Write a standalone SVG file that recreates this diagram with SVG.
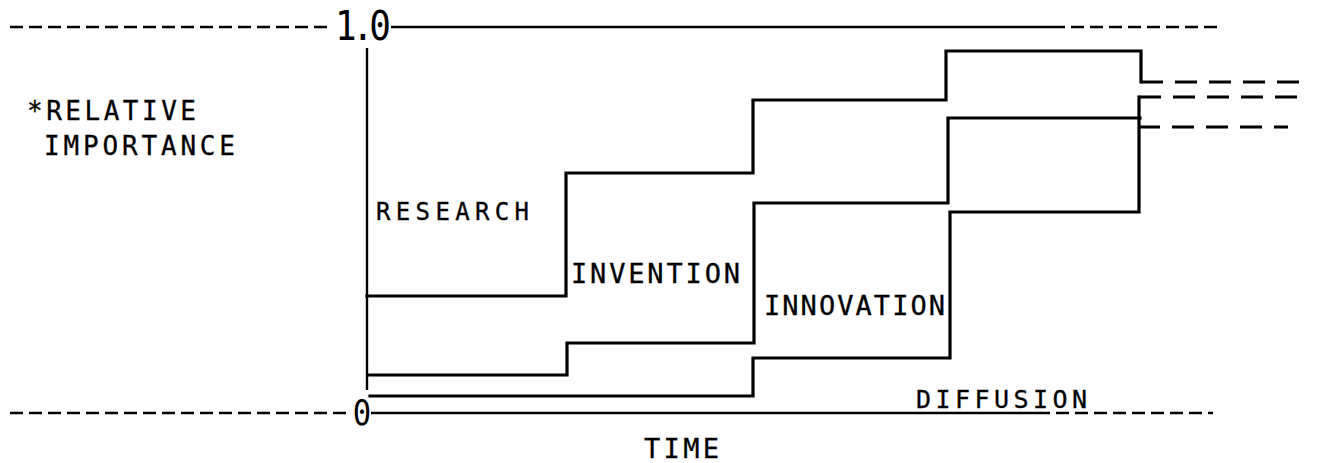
<svg xmlns="http://www.w3.org/2000/svg" width="1323" height="463" viewBox="0 0 1323 463">
<style>
.bg{fill:#fff}
.step{fill:none;stroke:#000;stroke-width:3.2;stroke-linejoin:miter;stroke-linecap:square}
.axis{fill:none;stroke:#000;stroke-width:2.4}
.dash{fill:none;stroke:#000;stroke-width:2.6;stroke-dasharray:13 6}
.dash2{fill:none;stroke:#000;stroke-width:3;stroke-dasharray:22 12}
.lbl{font-family:"DejaVu Sans Mono","Liberation Mono",monospace;fill:#000;stroke:#000;stroke-width:0.3}
.num{font-family:"DejaVu Sans Mono","Liberation Mono",monospace;fill:#000}
</style>
<rect class="bg" x="0" y="0" width="1323" height="463"/>
<g id="axes">
  <line class="dash" x1="10" y1="27" x2="330" y2="27"/>
  <line class="axis" x1="391" y1="27" x2="1052" y2="27"/>
  <line class="dash" x1="1052" y1="27" x2="1222" y2="27"/>
  <line class="dash" x1="10" y1="413" x2="350" y2="413"/>
  <line class="axis" x1="371" y1="413" x2="1037" y2="413"/>
  <line class="dash" x1="1037" y1="413" x2="1213" y2="413"/>
  <line class="axis" x1="367" y1="48" x2="367" y2="390"/>
  <text class="num" font-size="40" x="332 351 370" y="40" transform="translate(362 0) scale(0.9 1) translate(-362 0)">1.0</text>
  <text class="num" font-size="36" x="351" y="425" transform="translate(362 0) scale(0.85 1) translate(-362 0)">0</text>
</g>
<g id="curves">
  <path id="research-curve" class="step" d="M367,296 H566 V173 H753 V100 H946 V51 H1141 V82"/>
  <line class="dash2" x1="1141" y1="82" x2="1310" y2="82"/>
  <path id="invention-curve" class="step" d="M368,375 H567 V343 H754 V203 H948 V118 H1140"/>
  <line class="dash2" x1="1138" y1="127" x2="1288" y2="127"/>
  <path id="innovation-curve" class="step" d="M370,396 H753 V358 H950 V212 H1139 V97"/>
  <line class="dash2" x1="1139" y1="97" x2="1305" y2="97"/>
</g>
<g id="labels">
  <text id="ylabel1" class="lbl" font-size="26" x="27" y="120" textLength="169" lengthAdjust="spacing">*RELATIVE</text>
  <text id="ylabel2" class="lbl" font-size="26" x="44" y="155" textLength="191" lengthAdjust="spacing">IMPORTANCE</text>
  <text id="research" class="lbl" font-size="24" x="376" y="220" textLength="153" lengthAdjust="spacing">RESEARCH</text>
  <text id="invention" class="lbl" font-size="27" x="571" y="283" textLength="169" lengthAdjust="spacing">INVENTION</text>
  <text id="innovation" class="lbl" font-size="27" x="764" y="315" textLength="181" lengthAdjust="spacing">INNOVATION</text>
  <text id="diffusion" class="lbl" font-size="25" x="916" y="408" textLength="171" lengthAdjust="spacing">DIFFUSION</text>
  <text id="time" class="lbl" font-size="27" x="644" y="458" textLength="75" lengthAdjust="spacing">TIME</text>
</g>
</svg>
